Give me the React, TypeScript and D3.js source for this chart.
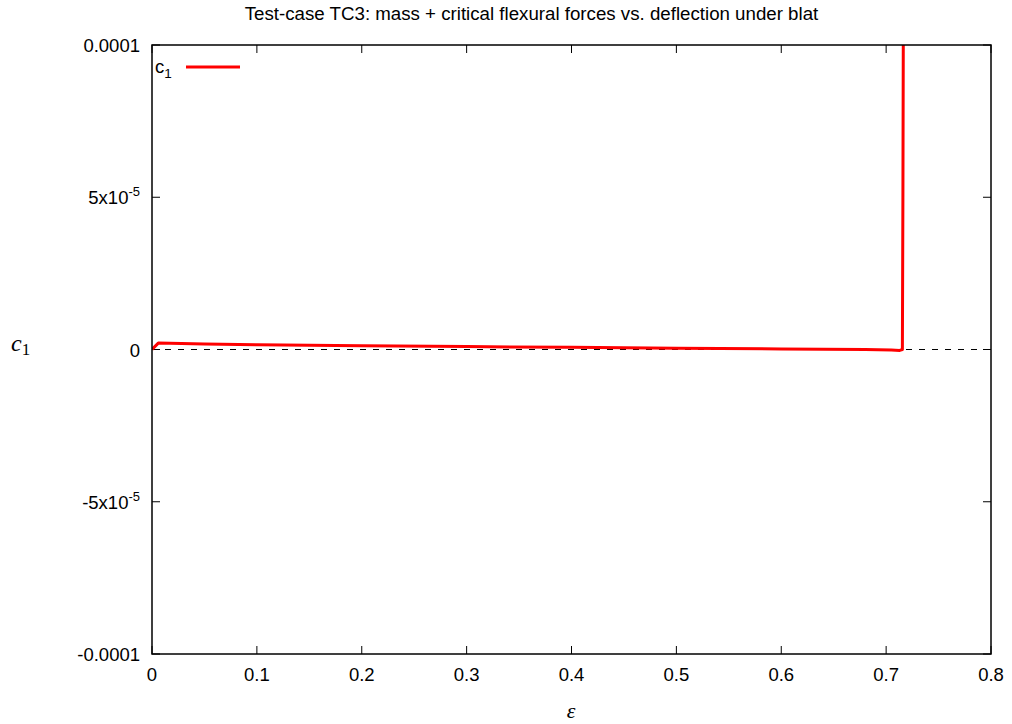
import React from "react";
import * as d3 from "d3";

const W = 1012;
const H = 724;
const xTicks = [0, 0.1, 0.2, 0.3, 0.4, 0.5, 0.6, 0.7, 0.8];
const yTicks = [-0.0001, -0.00005, 0, 0.00005, 0.0001];
const epsValues = [0, 0.006, 0.05, 0.1, 0.2, 0.3, 0.4, 0.5, 0.6, 0.68, 0.705, 0.713, 0.7155, 0.716, 0.7165];
const c1Values = [0, 2.1e-6, 1.8e-6, 1.55e-6, 1.25e-6, 0.95e-6, 0.7e-6, 0.45e-6, 0.2e-6, 0.0, -0.2e-6, -0.3e-6, 0.0, 5e-5, 1.2e-4];

const M = { left: 152, right: 991, top: 45, bottom: 654 };

function yLabel(v: number) {
  if (v === 0) return { base: "0", sup: null };
  if (v === 0.0001) return { base: "0.0001", sup: null };
  if (v === -0.0001) return { base: "-0.0001", sup: null };
  return { base: v > 0 ? "5x10" : "-5x10", sup: "-5" };
}

export default function App() {
  const x = d3.scaleLinear().domain([0, 0.8]).range([M.left, M.right]);
  const y = d3.scaleLinear().domain([-0.0001, 0.0001]).range([M.bottom, M.top]);
  const pts = epsValues.map((e, i) => [e, c1Values[i]] as [number, number]);
  const line = d3.line<[number, number]>().x((d) => x(d[0])).y((d) => y(d[1]));
  const font = "Liberation Sans, Arial, sans-serif";
  const fs = 18.5;
  const tick = 8;
  return (
    <svg width={W} height={H} style={{ position: "absolute", left: 0, top: 0, background: "#fff" }}>
      <defs>
        <clipPath id="plot">
          <rect x={M.left} y={M.top} width={M.right - M.left} height={M.bottom - M.top} />
        </clipPath>
      </defs>
      <text x={531.5} y={20} textAnchor="middle" fontFamily={font} fontSize={18.7}>
        Test-case TC3: mass + critical flexural forces vs. deflection under blat
      </text>
      {/* zero dashed line */}
      <line x1={M.left} x2={M.right} y1={y(0)} y2={y(0)} stroke="#000" strokeWidth={1} strokeDasharray="6,7" />
      {/* ticks */}
      {xTicks.map((t) => (
        <g key={"x" + t}>
          <line x1={x(t)} x2={x(t)} y1={M.bottom} y2={M.bottom - tick} stroke="#000" />
          <line x1={x(t)} x2={x(t)} y1={M.top} y2={M.top + tick} stroke="#000" />
          <text x={x(t)} y={M.bottom + 27} textAnchor="middle" fontFamily={font} fontSize={fs}>
            {t === 0 ? "0" : String(t)}
          </text>
        </g>
      ))}
      {yTicks.map((t) => {
        const l = yLabel(t);
        return (
          <g key={"y" + t}>
            <line x1={M.left} x2={M.left + tick} y1={y(t)} y2={y(t)} stroke="#000" />
            <line x1={M.right} x2={M.right - tick} y1={y(t)} y2={y(t)} stroke="#000" />
            <text x={M.left - 12} y={y(t) + 7} textAnchor="end" fontFamily={font} fontSize={fs}>
              {l.base}
              {l.sup && (
                <tspan dy={-8} fontSize={13}>
                  {l.sup}
                </tspan>
              )}
            </text>
          </g>
        );
      })}
      {/* data */}
      <path d={line(pts) || ""} fill="none" stroke="#ff0000" strokeWidth={3} clipPath="url(#plot)" strokeLinejoin="round" />
      {/* frame */}
      <rect x={M.left} y={M.top} width={M.right - M.left} height={M.bottom - M.top} fill="none" stroke="#000" strokeWidth={1.5} />
      {/* legend */}
      <text x={155} y={73} fontFamily={font} fontSize={fs}>
        c<tspan dy={5} fontSize={13.5}>1</tspan>
      </text>
      <line x1={186} x2={240} y1={67} y2={67} stroke="#ff0000" strokeWidth={3} />
      {/* axis labels */}
      <text x={11} y={351} fontFamily="Liberation Serif, serif" fontStyle="italic" fontSize={24}>
        c<tspan dy={4} fontSize={17} fontStyle="normal">1</tspan>
      </text>
      <text x={571} y={718} textAnchor="middle" fontFamily="Liberation Serif, serif" fontStyle="italic" fontSize={22}>
        ε
      </text>
    </svg>
  );
}
